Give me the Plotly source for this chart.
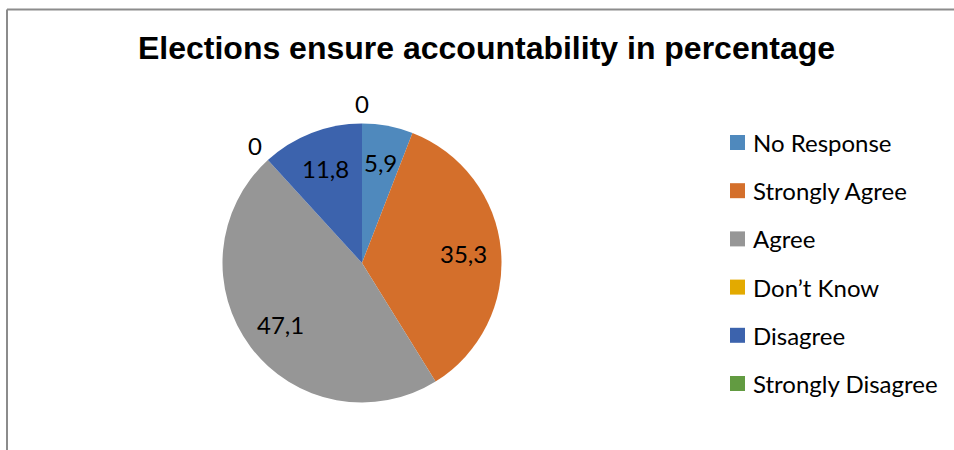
import math
import plotly.graph_objects as go

# Survey responses (percent)
categories = ["No Response", "Strongly Agree", "Agree", "Don\u2019t Know", "Disagree", "Strongly Disagree"]
values = [5.9, 35.3, 47.1, 0.0, 11.8, 0.0]
colors = ["#4f89bd", "#d46f2b", "#969696", "#e3aa00", "#3c63ad", "#629b41"]
title_text = "Elections ensure accountability in percentage"

W, H = 954, 450
# pie geometry in pixels
CX, CY, R = 362.0, 263.0, 139.5
FONT = "Lato, 'Open Sans', sans-serif"
FS = 24


def px(x):
    return x / W


def py(y):
    return 1 - y / H


def fmt(v):
    s = f"{v:.1f}".replace(".", ",")
    return "0" if v == 0 else s


fig = go.Figure()
fig.add_trace(go.Pie(
    labels=categories,
    values=values,
    marker=dict(colors=colors, line=dict(width=0)),
    sort=False,
    direction="clockwise",
    rotation=0,
    textinfo="none",
    showlegend=False,
    hoverinfo="label+value",
    domain=dict(x=[px(CX - R), px(CX + R)], y=[py(CY + R), py(CY - R)]),
))

annotations = []
shapes = []

# data labels on each slice's bisector: inside for non-zero slices,
# just outside the rim for zero-valued ones
total = sum(values)
cum = 0.0
for v in values:
    start = cum
    cum += v
    theta = 2 * math.pi * (start + v / 2) / total
    rr = R * (0.73 if v > 0 else 1.14)
    x = CX + rr * math.sin(theta)
    y = CY - rr * math.cos(theta)
    annotations.append(dict(
        x=px(x), y=py(y), xref="paper", yref="paper",
        text=fmt(v), showarrow=False,
        xanchor="center", yanchor="middle",
        font=dict(family=FONT, size=FS, color="#000000"),
    ))

# legend on the right
LX, LY0, LDY, SQ = 730, 142.5, 48.2, 15
for i, (lab, col) in enumerate(zip(categories, colors)):
    yc = LY0 + LDY * i
    shapes.append(dict(
        type="rect", xref="paper", yref="paper",
        x0=px(LX), x1=px(LX + SQ), y0=py(yc + SQ / 2), y1=py(yc - SQ / 2),
        fillcolor=col, line=dict(width=0),
    ))
    annotations.append(dict(
        x=px(LX + SQ + 6), y=py(yc), xref="paper", yref="paper",
        text=lab, showarrow=False, xanchor="left", yanchor="middle",
        font=dict(family=FONT, size=FS, color="#000000"),
    ))

# chart frame (left and top edges)
frame = dict(color="#8c8c8c", width=2)
shapes.append(dict(type="line", xref="paper", yref="paper",
                   x0=px(7), x1=px(7), y0=0, y1=py(9.5), line=frame))
shapes.append(dict(type="line", xref="paper", yref="paper",
                   x0=px(7), x1=1, y0=py(9.5), y1=py(9.5), line=frame))

fig.update_layout(
    width=W, height=H,
    margin=dict(l=0, r=0, t=0, b=0),
    paper_bgcolor="#ffffff",
    plot_bgcolor="#ffffff",
    title=dict(
        text=f"<b>{title_text}</b>",
        x=px(486.5), xanchor="center",
        y=py(37), yanchor="top", yref="container",
        font=dict(family="'Liberation Sans', Arial, sans-serif", size=32, color="#000000"),
    ),
    annotations=annotations,
    shapes=shapes,
)

fig.write_html("out.html")
